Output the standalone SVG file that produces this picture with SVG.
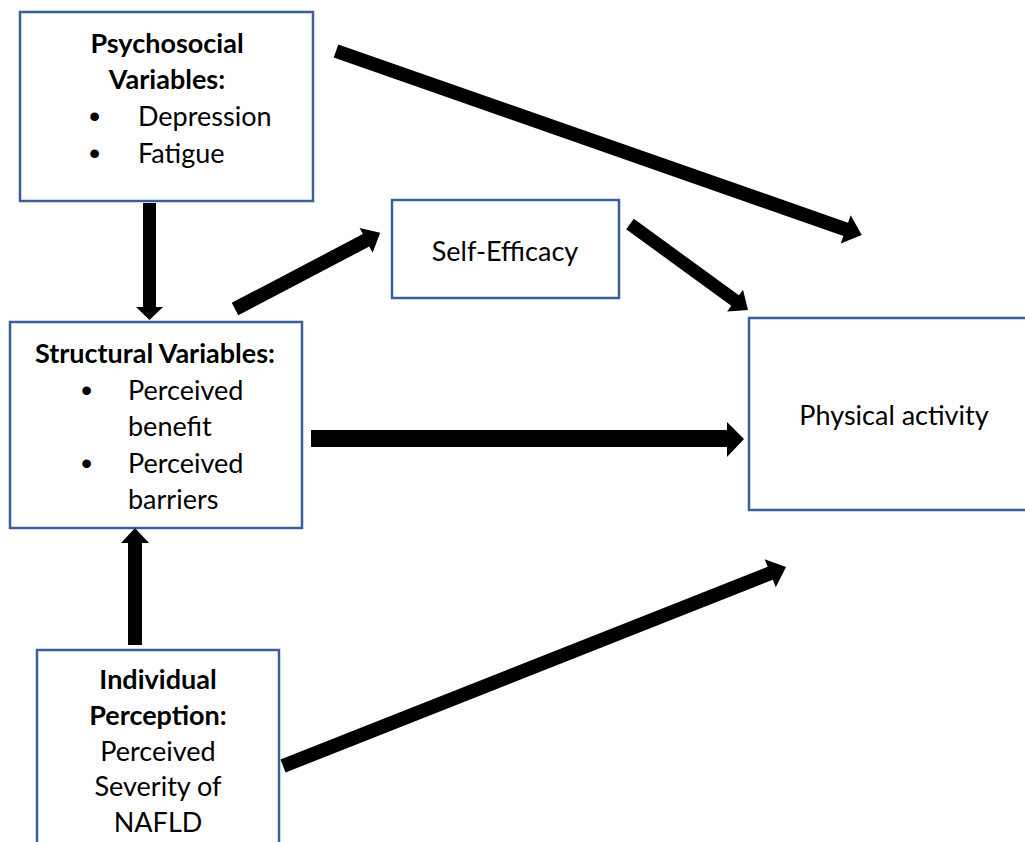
<svg xmlns="http://www.w3.org/2000/svg" width="1025" height="842" viewBox="0 0 1025 842">
<style>
.box{fill:#fff;stroke:#3A5F9B;stroke-width:2.5}
.t{font-family:Lato,"Open Sans","Liberation Sans",sans-serif;font-size:27px;fill:#000}
.b{font-weight:bold}
.c{text-anchor:middle}
.bul{font-family:"Liberation Sans",sans-serif;font-size:32px;fill:#000}
.arr{fill:#000}
</style>
<rect width="1025" height="842" fill="#fff"/>
<g id="psychosocial">
<rect class="box" x="20" y="12" width="293" height="189"/>
<text class="t b c" x="167" y="53">Psychosocial</text>
<text class="t b c" x="167" y="89">Variables:</text>
<text class="bul" x="89" y="127">•</text>
<text class="t" x="138" y="126">Depression</text>
<text class="bul" x="89" y="164">•</text>
<text class="t" x="138" y="163">Fatigue</text>
</g>
<g id="self-efficacy">
<rect class="box" x="392" y="200" width="227" height="98"/>
<text class="t c" x="505" y="261">Self-Efficacy</text>
</g>
<g id="structural">
<rect class="box" x="10" y="322" width="292" height="206"/>
<text class="t b c" x="155" y="363">Structural Variables:</text>
<text class="bul" x="81" y="401">•</text>
<text class="t" x="128" y="400">Perceived</text>
<text class="t" x="128" y="436">benefit</text>
<text class="bul" x="81" y="474">•</text>
<text class="t" x="128" y="473">Perceived</text>
<text class="t" x="128" y="509">barriers</text>
</g>
<g id="physical-activity">
<rect class="box" x="749" y="318" width="300" height="192"/>
<text class="t c" x="894" y="425">Physical activity</text>
</g>
<g id="individual">
<rect class="box" x="37" y="650" width="242" height="230"/>
<text class="t b c" x="158" y="689">Individual</text>
<text class="t b c" x="158" y="725">Perception:</text>
<text class="t c" x="158" y="761">Perceived</text>
<text class="t c" x="158" y="796">Severity of</text>
<text class="t c" x="158" y="832">NAFLD</text>
</g>
<g id="connectors">
<polygon class="arr" points="143,203 156,203 156,307 163,307 149.5,320 136,307 143,307"/>
<polygon class="arr" points="128,645 142,645 142,543 149,543 135,528 121,543 128,543"/>
<polygon class="arr" points="311,430 727,430 727,422 744,439 727,457 727,447 311,447"/>
<path class="arr" transform="translate(235,309) rotate(-27.66)" d="M0,-7 H148 V-14 L164,0 L148,14 V7 H0 Z"/>
<path class="arr" transform="translate(630,224) rotate(36.08)" d="M0,-6.5 H130 V-13.5 L146,0 L130,13.5 V6.5 H0 Z"/>
<path class="arr" transform="translate(336,51) rotate(19.28)" d="M0,-7 H540 V-15 L557,0 L540,15 V7 H0 Z"/>
<path class="arr" transform="translate(283,766) rotate(-21.59)" d="M0,-7 H524 V-15 L541,0 L524,15 V7 H0 Z"/>
</g>
</svg>
